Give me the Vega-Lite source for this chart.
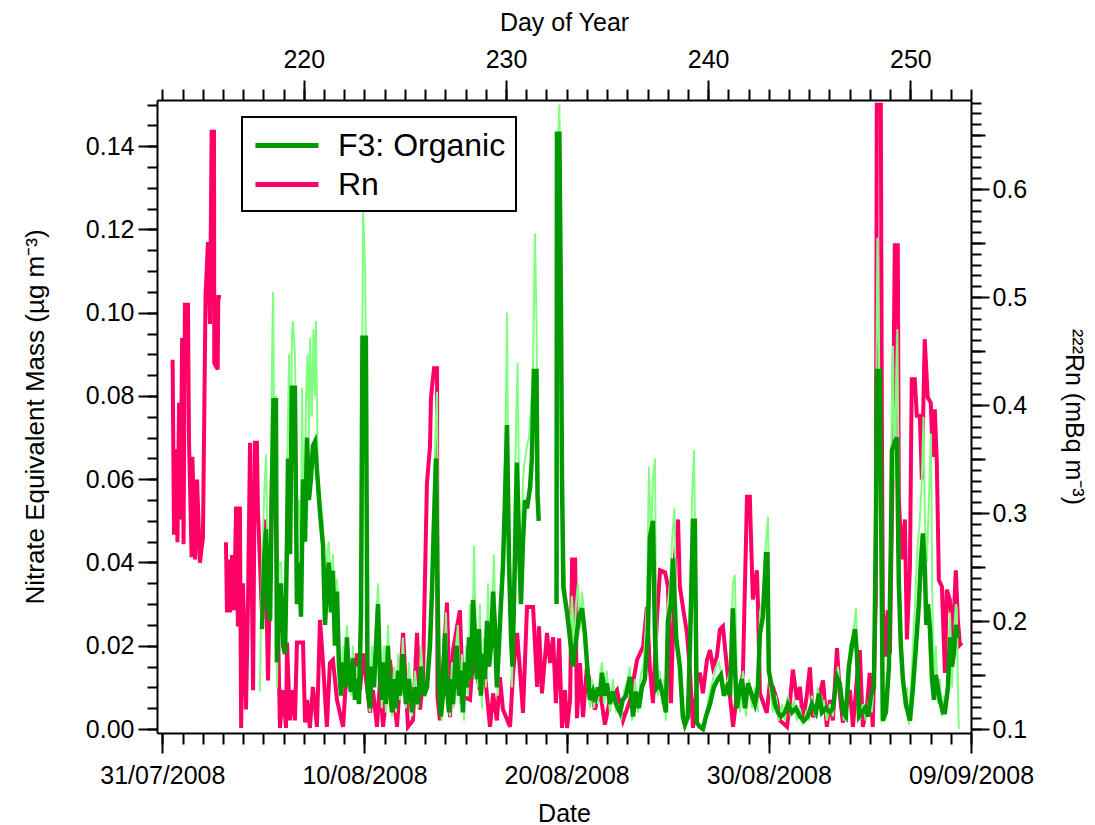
{
"$schema":"https://vega.github.io/schema/vega-lite/v6.json",
"width":814,"height":633,"autosize":"none",
"padding":{"left":157,"top":100,"right":124,"bottom":92},
"background":"white",
"config":{"font":"Liberation Sans","view":{"stroke":null},
"axis":{"grid":false,"domainColor":"black","domainWidth":2,"tickColor":"black","tickWidth":2,"labelColor":"black","titleColor":"black","labelFontSize":25,"titleFontSize":25,"titleFontWeight":"normal","labelFont":"Liberation Sans","titleFont":"Liberation Sans","labelOverlap":false,"labelBound":false,"labelFlush":false}},
"datasets":{
"rn":[
{"doy":213.51,"rn":0.442},{"doy":213.58,"rn":0.280},{"doy":213.68,"rn":0.359},{"doy":213.75,"rn":0.273},{"doy":213.83,"rn":0.402},{"doy":213.90,"rn":0.294},{"doy":213.98,"rn":0.462},{"doy":214.05,"rn":0.271},{"doy":214.12,"rn":0.493},{"doy":214.27,"rn":0.493},{"doy":214.32,"rn":0.368},{"doy":214.45,"rn":0.259},{"doy":214.49,"rn":0.352},{"doy":214.62,"rn":0.257},{"doy":214.72,"rn":0.331},{"doy":214.86,"rn":0.254},{"doy":215.01,"rn":0.277},{"doy":215.14,"rn":0.502},{"doy":215.26,"rn":0.551},{"doy":215.36,"rn":0.475},{"doy":215.44,"rn":0.653},{"doy":215.56,"rn":0.653},{"doy":215.57,"rn":0.439},{"doy":215.74,"rn":0.433},{"doy":215.77,"rn":0.500},{"doy":215.90,"rn":0.500},{"doy":216.00,"rn":null},
{"doy":216.15,"rn":0.273},{"doy":216.20,"rn":0.208},{"doy":216.30,"rn":0.257},{"doy":216.35,"rn":0.208},{"doy":216.45,"rn":0.261},{"doy":216.55,"rn":0.210},{"doy":216.65,"rn":0.306},{"doy":216.74,"rn":0.195},{"doy":216.84,"rn":0.306},{"doy":216.90,"rn":0.101},{"doy":216.99,"rn":0.235},{"doy":217.14,"rn":0.118},{"doy":217.24,"rn":0.220},{"doy":217.34,"rn":0.365},{"doy":217.44,"rn":0.220},{"doy":217.49,"rn":0.136},{"doy":217.58,"rn":0.365},{"doy":217.68,"rn":0.365},{"doy":217.73,"rn":0.303},{"doy":217.94,"rn":0.201},{"doy":218.08,"rn":0.294},{"doy":218.23,"rn":0.145},{"doy":218.43,"rn":0.343},{"doy":218.57,"rn":0.334},{"doy":218.67,"rn":0.245},{"doy":218.82,"rn":0.101},{"doy":218.97,"rn":0.136},{"doy":219.12,"rn":0.101},{"doy":219.17,"rn":0.180},{"doy":219.31,"rn":0.108},{"doy":219.46,"rn":0.136},{"doy":219.56,"rn":0.108},{"doy":219.66,"rn":0.180},{"doy":219.96,"rn":0.180},{"doy":220.06,"rn":0.106},{"doy":220.16,"rn":0.127},{"doy":220.30,"rn":0.101},{"doy":220.45,"rn":0.139},{"doy":220.65,"rn":0.102},{"doy":220.80,"rn":0.201},{"doy":220.95,"rn":0.161},{"doy":221.14,"rn":0.102},{"doy":221.29,"rn":0.161},{"doy":221.44,"rn":0.164},{"doy":221.64,"rn":0.127},{"doy":221.94,"rn":0.102},{"doy":222.14,"rn":0.161},{"doy":222.38,"rn":0.136},{"doy":222.63,"rn":0.170},{"doy":222.78,"rn":0.136},{"doy":222.93,"rn":0.170},{"doy":223.27,"rn":0.115},{"doy":223.42,"rn":0.136},{"doy":223.62,"rn":0.102},{"doy":223.77,"rn":0.145},{"doy":223.92,"rn":0.102},{"doy":224.26,"rn":0.164},{"doy":224.61,"rn":0.102},{"doy":224.91,"rn":0.189},{"doy":225.15,"rn":0.102},{"doy":225.40,"rn":0.108},{"doy":225.60,"rn":0.189},{"doy":225.75,"rn":0.118},{"doy":225.89,"rn":0.145},{"doy":226.09,"rn":0.328},{"doy":226.24,"rn":0.361},{"doy":226.29,"rn":0.407},{"doy":226.44,"rn":0.434},{"doy":226.59,"rn":0.434},{"doy":226.61,"rn":0.130},{"doy":226.73,"rn":0.108},{"doy":227.08,"rn":0.217},{"doy":227.23,"rn":0.111},{"doy":227.38,"rn":0.173},{"doy":227.72,"rn":0.210},{"doy":227.87,"rn":0.130},{"doy":228.22,"rn":0.127},{"doy":228.37,"rn":0.167},{"doy":228.71,"rn":0.136},{"doy":228.86,"rn":0.170},{"doy":229.21,"rn":0.102},{"doy":229.36,"rn":0.133},{"doy":229.55,"rn":0.108},{"doy":229.70,"rn":0.148},{"doy":229.85,"rn":0.118},{"doy":230.20,"rn":0.102},{"doy":230.35,"rn":0.152},{"doy":230.55,"rn":0.189},{"doy":230.70,"rn":0.152},{"doy":230.84,"rn":0.115},{"doy":231.04,"rn":0.213},{"doy":231.34,"rn":0.213},{"doy":231.54,"rn":0.139},{"doy":231.63,"rn":0.195},{"doy":231.78,"rn":0.133},{"doy":232.03,"rn":0.189},{"doy":232.18,"rn":0.161},{"doy":232.33,"rn":0.185},{"doy":232.47,"rn":0.124},{"doy":232.63,"rn":0.184},{"doy":232.77,"rn":0.101},{"doy":232.92,"rn":0.136},{"doy":233.02,"rn":0.101},{"doy":233.17,"rn":0.127},{"doy":233.27,"rn":0.257},{"doy":233.42,"rn":0.257},{"doy":233.51,"rn":0.110},{"doy":233.66,"rn":0.161},{"doy":233.81,"rn":0.111},{"doy":234.00,"rn":0.157},{"doy":234.15,"rn":0.143},{"doy":234.40,"rn":0.118},{"doy":234.65,"rn":0.136},{"doy":234.89,"rn":0.104},{"doy":235.14,"rn":0.127},{"doy":235.49,"rn":0.136},{"doy":235.79,"rn":0.108},{"doy":236.14,"rn":0.127},{"doy":236.48,"rn":0.164},{"doy":236.78,"rn":0.176},{"doy":236.97,"rn":0.213},{"doy":237.12,"rn":0.155},{"doy":237.27,"rn":0.124},{"doy":237.47,"rn":0.204},{"doy":237.62,"rn":0.247},{"doy":237.87,"rn":0.245},{"doy":238.01,"rn":0.232},{"doy":238.16,"rn":0.124},{"doy":238.36,"rn":0.259},{"doy":238.51,"rn":0.294},{"doy":238.60,"rn":0.232},{"doy":238.75,"rn":0.213},{"doy":238.95,"rn":0.189},{"doy":239.10,"rn":0.153},{"doy":239.25,"rn":0.101},{"doy":239.45,"rn":0.143},{"doy":239.59,"rn":0.152},{"doy":239.74,"rn":0.133},{"doy":239.94,"rn":0.164},{"doy":240.09,"rn":0.173},{"doy":240.24,"rn":0.157},{"doy":240.43,"rn":0.167},{"doy":240.58,"rn":0.192},{"doy":240.73,"rn":0.195},{"doy":240.93,"rn":0.157},{"doy":241.08,"rn":0.130},{"doy":241.23,"rn":0.102},{"doy":241.43,"rn":0.133},{"doy":241.57,"rn":0.130},{"doy":241.72,"rn":0.152},{"doy":241.92,"rn":0.315},{"doy":242.06,"rn":0.315},{"doy":242.21,"rn":0.220},{"doy":242.41,"rn":0.247},{"doy":242.46,"rn":0.217},{"doy":242.56,"rn":0.133},{"doy":242.90,"rn":0.115},{"doy":243.05,"rn":0.143},{"doy":243.20,"rn":0.139},{"doy":243.40,"rn":0.127},{"doy":243.55,"rn":0.108},{"doy":243.90,"rn":0.102},{"doy":244.04,"rn":0.124},{"doy":244.19,"rn":0.155},{"doy":244.39,"rn":0.127},{"doy":244.54,"rn":0.139},{"doy":244.69,"rn":0.106},{"doy":244.89,"rn":0.133},{"doy":245.03,"rn":0.157},{"doy":245.18,"rn":0.111},{"doy":245.38,"rn":0.120},{"doy":245.53,"rn":0.133},{"doy":245.68,"rn":0.145},{"doy":245.87,"rn":0.102},{"doy":246.02,"rn":0.127},{"doy":246.17,"rn":0.108},{"doy":246.37,"rn":0.175},{"doy":246.51,"rn":0.133},{"doy":246.66,"rn":0.106},{"doy":246.86,"rn":0.127},{"doy":247.01,"rn":0.136},{"doy":247.16,"rn":0.102},{"doy":247.35,"rn":0.145},{"doy":247.50,"rn":0.173},{"doy":247.65,"rn":0.102},{"doy":247.85,"rn":0.120},{"doy":247.99,"rn":0.152},{"doy":248.14,"rn":0.102},{"doy":248.29,"rn":0.220},{"doy":248.34,"rn":0.678},{"doy":248.54,"rn":0.678},{"doy":248.59,"rn":0.389},{"doy":248.64,"rn":0.210},{"doy":248.79,"rn":0.167},{"doy":248.88,"rn":0.210},{"doy":248.99,"rn":0.170},{"doy":249.14,"rn":0.365},{"doy":249.23,"rn":0.548},{"doy":249.38,"rn":0.548},{"doy":249.43,"rn":0.312},{"doy":249.58,"rn":0.257},{"doy":249.73,"rn":0.294},{"doy":249.83,"rn":0.183},{"doy":249.98,"rn":0.250},{"doy":250.07,"rn":0.424},{"doy":250.22,"rn":0.424},{"doy":250.32,"rn":0.390},{"doy":250.47,"rn":0.390},{"doy":250.57,"rn":0.331},{"doy":250.71,"rn":0.461},{"doy":250.86,"rn":0.407},{"doy":251.01,"rn":0.402},{"doy":251.11,"rn":0.352},{"doy":251.21,"rn":0.396},{"doy":251.31,"rn":0.347},{"doy":251.41,"rn":0.238},{"doy":251.56,"rn":0.232},{"doy":251.71,"rn":0.152},{"doy":251.80,"rn":0.229},{"doy":251.95,"rn":0.220},{"doy":252.10,"rn":0.183},{"doy":252.25,"rn":0.247},{"doy":252.35,"rn":0.201},{"doy":252.45,"rn":0.178},{"doy":252.55,"rn":0.180}
],
"avg":[
{"doy":217.93,"org":0.024},{"doy":218.03,"org":0.040},{"doy":218.13,"org":0.048},{"doy":218.23,"org":0.030},{"doy":218.33,"org":0.026},{"doy":218.43,"org":0.060},{"doy":218.50,"org":0.079},{"doy":218.62,"org":0.079},{"doy":218.67,"org":0.016},{"doy":218.77,"org":0.030},{"doy":218.87,"org":0.035},{"doy":218.97,"org":0.020},{"doy":219.07,"org":0.018},{"doy":219.17,"org":0.045},{"doy":219.22,"org":0.065},{"doy":219.32,"org":0.042},{"doy":219.41,"org":0.082},{"doy":219.56,"org":0.082},{"doy":219.66,"org":0.030},{"doy":219.76,"org":0.040},{"doy":219.86,"org":0.027},{"doy":219.96,"org":0.060},{"doy":220.06,"org":0.045},{"doy":220.16,"org":0.070},{"doy":220.25,"org":0.055},{"doy":220.35,"org":0.060},{"doy":220.45,"org":0.068},{"doy":220.55,"org":0.069},{"doy":220.80,"org":0.052},{"doy":220.95,"org":0.044},{"doy":221.05,"org":0.025},{"doy":221.15,"org":0.036},{"doy":221.24,"org":0.040},{"doy":221.34,"org":0.028},{"doy":221.44,"org":0.038},{"doy":221.54,"org":0.020},{"doy":221.64,"org":0.033},{"doy":221.74,"org":0.015},{"doy":221.84,"org":0.008},{"doy":221.94,"org":0.016},{"doy":222.04,"org":0.010},{"doy":222.13,"org":0.022},{"doy":222.23,"org":0.012},{"doy":222.33,"org":0.009},{"doy":222.43,"org":0.017},{"doy":222.53,"org":0.007},{"doy":222.63,"org":0.012},{"doy":222.73,"org":0.006},{"doy":222.83,"org":0.028},{"doy":222.90,"org":0.094},{"doy":223.07,"org":0.094},{"doy":223.15,"org":0.010},{"doy":223.27,"org":0.005},{"doy":223.37,"org":0.015},{"doy":223.47,"org":0.010},{"doy":223.57,"org":0.020},{"doy":223.67,"org":0.030},{"doy":223.77,"org":0.012},{"doy":223.86,"org":0.007},{"doy":223.96,"org":0.016},{"doy":224.06,"org":0.006},{"doy":224.16,"org":0.020},{"doy":224.26,"org":0.010},{"doy":224.36,"org":0.004},{"doy":224.46,"org":0.012},{"doy":224.56,"org":0.005},{"doy":224.66,"org":0.014},{"doy":224.76,"org":0.008},{"doy":224.90,"org":0.018},{"doy":225.05,"org":0.006},{"doy":225.20,"org":0.012},{"doy":225.35,"org":0.004},{"doy":225.50,"org":0.010},{"doy":225.65,"org":0.006},{"doy":225.80,"org":0.015},{"doy":225.94,"org":0.008},{"doy":226.09,"org":0.010},{"doy":226.24,"org":0.020},{"doy":226.34,"org":0.033},{"doy":226.44,"org":0.050},{"doy":226.54,"org":0.065},{"doy":226.61,"org":0.035},{"doy":226.68,"org":0.010},{"doy":226.78,"org":0.003},{"doy":226.88,"org":0.008},{"doy":226.98,"org":0.023},{"doy":227.08,"org":0.010},{"doy":227.18,"org":0.004},{"doy":227.28,"org":0.012},{"doy":227.38,"org":0.006},{"doy":227.48,"org":0.015},{"doy":227.57,"org":0.020},{"doy":227.67,"org":0.008},{"doy":227.77,"org":0.014},{"doy":227.87,"org":0.004},{"doy":227.97,"org":0.016},{"doy":228.07,"org":0.010},{"doy":228.17,"org":0.022},{"doy":228.27,"org":0.012},{"doy":228.37,"org":0.031},{"doy":228.47,"org":0.022},{"doy":228.56,"org":0.012},{"doy":228.66,"org":0.024},{"doy":228.76,"org":0.008},{"doy":228.86,"org":0.018},{"doy":228.96,"org":0.012},{"doy":229.06,"org":0.026},{"doy":229.16,"org":0.015},{"doy":229.26,"org":0.020},{"doy":229.36,"org":0.033},{"doy":229.45,"org":0.025},{"doy":229.55,"org":0.010},{"doy":229.65,"org":0.020},{"doy":229.75,"org":0.030},{"doy":229.85,"org":0.039},{"doy":229.95,"org":0.055},{"doy":230.05,"org":0.073},{"doy":230.15,"org":0.040},{"doy":230.25,"org":0.022},{"doy":230.32,"org":0.015},{"doy":230.44,"org":0.040},{"doy":230.54,"org":0.064},{"doy":230.64,"org":0.045},{"doy":230.74,"org":0.030},{"doy":230.84,"org":0.045},{"doy":230.94,"org":0.055},{"doy":231.04,"org":0.053},{"doy":231.19,"org":0.058},{"doy":231.28,"org":0.065},{"doy":231.38,"org":0.086},{"doy":231.51,"org":0.086},{"doy":231.56,"org":0.056},{"doy":231.62,"org":0.050},{"doy":232.00,"org":null},{"doy":232.50,"org":0.030},{"doy":232.52,"org":0.143},{"doy":232.64,"org":0.143},{"doy":232.72,"org":0.100},{"doy":232.77,"org":0.060},{"doy":232.84,"org":0.034},{"doy":233.02,"org":0.028},{"doy":233.16,"org":0.022},{"doy":233.31,"org":0.015},{"doy":233.51,"org":0.023},{"doy":233.61,"org":0.027},{"doy":233.76,"org":0.029},{"doy":233.90,"org":0.023},{"doy":234.05,"org":0.013},{"doy":234.15,"org":0.007},{"doy":234.30,"org":0.009},{"doy":234.40,"org":0.0065},{"doy":234.55,"org":0.010},{"doy":234.65,"org":0.008},{"doy":234.75,"org":0.0135},{"doy":234.89,"org":0.008},{"doy":234.99,"org":0.011},{"doy":235.14,"org":0.006},{"doy":235.29,"org":0.009},{"doy":235.44,"org":0.006},{"doy":235.64,"org":0.004},{"doy":235.78,"org":0.007},{"doy":235.93,"org":0.008},{"doy":236.13,"org":0.0125},{"doy":236.28,"org":0.003},{"doy":236.43,"org":0.009},{"doy":236.57,"org":0.005},{"doy":236.72,"org":0.010},{"doy":236.87,"org":0.012},{"doy":237.02,"org":0.023},{"doy":237.12,"org":0.046},{"doy":237.27,"org":0.050},{"doy":237.37,"org":0.022},{"doy":237.47,"org":0.010},{"doy":237.61,"org":0.011},{"doy":237.76,"org":0.008},{"doy":237.91,"org":0.004},{"doy":238.01,"org":0.026},{"doy":238.16,"org":0.030},{"doy":238.26,"org":0.041},{"doy":238.41,"org":0.022},{"doy":238.60,"org":0.015},{"doy":238.75,"org":0.003},{"doy":238.85,"org":0.001},{"doy":239.00,"org":0.003},{"doy":239.10,"org":0.020},{"doy":239.25,"org":0.050},{"doy":239.34,"org":0.050},{"doy":239.44,"org":0.0015},{"doy":239.59,"org":0.0005},{"doy":239.74,"org":0.000},{"doy":239.89,"org":0.003},{"doy":240.09,"org":0.006},{"doy":240.28,"org":0.010},{"doy":240.48,"org":0.012},{"doy":240.63,"org":0.013},{"doy":240.78,"org":0.008},{"doy":240.93,"org":0.010},{"doy":241.08,"org":0.008},{"doy":241.22,"org":0.029},{"doy":241.32,"org":0.015},{"doy":241.42,"org":0.005},{"doy":241.57,"org":0.010},{"doy":241.67,"org":0.012},{"doy":241.82,"org":0.005},{"doy":241.97,"org":0.011},{"doy":242.17,"org":0.008},{"doy":242.31,"org":0.006},{"doy":242.46,"org":0.010},{"doy":242.56,"org":0.023},{"doy":242.71,"org":0.027},{"doy":242.86,"org":0.042},{"doy":242.93,"org":0.042},{"doy":243.00,"org":0.014},{"doy":243.15,"org":0.010},{"doy":243.30,"org":0.006},{"doy":243.45,"org":0.004},{"doy":243.60,"org":0.003},{"doy":243.80,"org":0.004},{"doy":243.94,"org":0.006},{"doy":244.14,"org":0.004},{"doy":244.34,"org":0.005},{"doy":244.54,"org":0.003},{"doy":244.73,"org":0.002},{"doy":244.93,"org":0.003},{"doy":245.13,"org":0.006},{"doy":245.33,"org":0.004},{"doy":245.48,"org":0.0085},{"doy":245.63,"org":0.004},{"doy":245.82,"org":0.005},{"doy":246.02,"org":0.004},{"doy":246.17,"org":0.005},{"doy":246.37,"org":0.0125},{"doy":246.51,"org":0.011},{"doy":246.67,"org":0.004},{"doy":246.81,"org":0.003},{"doy":246.96,"org":0.015},{"doy":247.11,"org":0.020},{"doy":247.26,"org":0.024},{"doy":247.36,"org":0.018},{"doy":247.46,"org":0.003},{"doy":247.61,"org":0.004},{"doy":247.75,"org":0.005},{"doy":247.90,"org":0.003},{"doy":248.05,"org":0.008},{"doy":248.20,"org":0.010},{"doy":248.30,"org":0.050},{"doy":248.35,"org":0.086},{"doy":248.49,"org":0.086},{"doy":248.54,"org":0.060},{"doy":248.64,"org":0.002},{"doy":248.79,"org":0.004},{"doy":248.94,"org":0.015},{"doy":249.04,"org":0.045},{"doy":249.09,"org":0.067},{"doy":249.24,"org":0.069},{"doy":249.34,"org":0.070},{"doy":249.43,"org":0.035},{"doy":249.53,"org":0.020},{"doy":249.63,"org":0.012},{"doy":249.78,"org":0.006},{"doy":249.98,"org":0.002},{"doy":250.13,"org":0.010},{"doy":250.28,"org":0.020},{"doy":250.42,"org":0.030},{"doy":250.52,"org":0.040},{"doy":250.62,"org":0.047},{"doy":250.72,"org":0.038},{"doy":250.79,"org":0.025},{"doy":250.87,"org":0.030},{"doy":250.97,"org":0.024},{"doy":251.07,"org":0.012},{"doy":251.17,"org":0.007},{"doy":251.26,"org":0.013},{"doy":251.36,"org":0.010},{"doy":251.46,"org":0.007},{"doy":251.61,"org":0.004},{"doy":251.71,"org":0.004},{"doy":251.86,"org":0.010},{"doy":251.96,"org":0.022},{"doy":252.06,"org":0.015},{"doy":252.15,"org":0.018},{"doy":252.25,"org":0.025},{"doy":252.35,"org":0.022},{"doy":252.40,"org":0.023}
],
"raw":[
{"doy":217.83,"org":0.009},{"doy":217.93,"org":0.040},{"doy":218.03,"org":0.055},{"doy":218.13,"org":0.066},{"doy":218.23,"org":0.035},{"doy":218.33,"org":0.040},{"doy":218.43,"org":0.090},{"doy":218.48,"org":0.105},{"doy":218.55,"org":0.060},{"doy":218.62,"org":0.080},{"doy":218.67,"org":0.010},{"doy":218.77,"org":0.040},{"doy":218.87,"org":0.040},{"doy":218.97,"org":0.025},{"doy":219.07,"org":0.030},{"doy":219.17,"org":0.060},{"doy":219.27,"org":0.090},{"doy":219.34,"org":0.050},{"doy":219.41,"org":0.095},{"doy":219.46,"org":0.098},{"doy":219.56,"org":0.090},{"doy":219.66,"org":0.050},{"doy":219.76,"org":0.055},{"doy":219.86,"org":0.040},{"doy":219.91,"org":0.082},{"doy":220.01,"org":0.045},{"doy":220.11,"org":0.080},{"doy":220.18,"org":0.090},{"doy":220.25,"org":0.070},{"doy":220.31,"org":0.094},{"doy":220.40,"org":0.075},{"doy":220.48,"org":0.096},{"doy":220.55,"org":0.080},{"doy":220.60,"org":0.098},{"doy":220.70,"org":0.060},{"doy":220.95,"org":0.050},{"doy":221.05,"org":0.030},{"doy":221.15,"org":0.042},{"doy":221.24,"org":0.045},{"doy":221.34,"org":0.030},{"doy":221.44,"org":0.042},{"doy":221.54,"org":0.022},{"doy":221.64,"org":0.036},{"doy":221.74,"org":0.018},{"doy":221.84,"org":0.010},{"doy":221.94,"org":0.020},{"doy":222.04,"org":0.012},{"doy":222.13,"org":0.025},{"doy":222.23,"org":0.015},{"doy":222.33,"org":0.008},{"doy":222.43,"org":0.020},{"doy":222.53,"org":0.008},{"doy":222.63,"org":0.015},{"doy":222.73,"org":0.008},{"doy":222.83,"org":0.035},{"doy":222.93,"org":0.125},{"doy":223.03,"org":0.110},{"doy":223.10,"org":0.080},{"doy":223.17,"org":0.008},{"doy":223.27,"org":0.004},{"doy":223.37,"org":0.020},{"doy":223.47,"org":0.012},{"doy":223.57,"org":0.025},{"doy":223.67,"org":0.035},{"doy":223.77,"org":0.015},{"doy":223.86,"org":0.005},{"doy":223.96,"org":0.020},{"doy":224.06,"org":0.004},{"doy":224.16,"org":0.025},{"doy":224.26,"org":0.012},{"doy":224.36,"org":0.003},{"doy":224.46,"org":0.015},{"doy":224.56,"org":0.004},{"doy":224.66,"org":0.018},{"doy":224.76,"org":0.007},{"doy":224.90,"org":0.022},{"doy":225.05,"org":0.005},{"doy":225.20,"org":0.016},{"doy":225.35,"org":0.003},{"doy":225.50,"org":0.014},{"doy":225.65,"org":0.005},{"doy":225.80,"org":0.020},{"doy":225.94,"org":0.008},{"doy":226.09,"org":0.014},{"doy":226.24,"org":0.026},{"doy":226.34,"org":0.040},{"doy":226.44,"org":0.060},{"doy":226.54,"org":0.075},{"doy":226.59,"org":0.081},{"doy":226.64,"org":0.040},{"doy":226.73,"org":0.008},{"doy":226.83,"org":0.002},{"doy":226.93,"org":0.012},{"doy":227.03,"org":0.028},{"doy":227.13,"org":0.008},{"doy":227.23,"org":0.003},{"doy":227.33,"org":0.016},{"doy":227.43,"org":0.005},{"doy":227.53,"org":0.020},{"doy":227.62,"org":0.025},{"doy":227.72,"org":0.006},{"doy":227.82,"org":0.018},{"doy":227.92,"org":0.002},{"doy":228.02,"org":0.020},{"doy":228.12,"org":0.008},{"doy":228.22,"org":0.030},{"doy":228.32,"org":0.015},{"doy":228.42,"org":0.044},{"doy":228.51,"org":0.020},{"doy":228.61,"org":0.010},{"doy":228.71,"org":0.030},{"doy":228.81,"org":0.005},{"doy":228.91,"org":0.022},{"doy":229.01,"org":0.010},{"doy":229.11,"org":0.035},{"doy":229.20,"org":0.015},{"doy":229.30,"org":0.025},{"doy":229.40,"org":0.042},{"doy":229.50,"org":0.020},{"doy":229.60,"org":0.008},{"doy":229.70,"org":0.028},{"doy":229.80,"org":0.040},{"doy":229.90,"org":0.050},{"doy":230.00,"org":0.080},{"doy":230.05,"org":0.100},{"doy":230.12,"org":0.050},{"doy":230.20,"org":0.030},{"doy":230.30,"org":0.010},{"doy":230.40,"org":0.050},{"doy":230.49,"org":0.070},{"doy":230.57,"org":0.088},{"doy":230.64,"org":0.060},{"doy":230.74,"org":0.035},{"doy":230.84,"org":0.060},{"doy":230.94,"org":0.065},{"doy":231.04,"org":0.068},{"doy":231.14,"org":0.070},{"doy":231.24,"org":0.078},{"doy":231.33,"org":0.085},{"doy":231.43,"org":0.119},{"doy":231.51,"org":0.098},{"doy":231.58,"org":0.060},{"doy":232.00,"org":null},{"doy":232.50,"org":0.050},{"doy":232.57,"org":0.140},{"doy":232.64,"org":0.150},{"doy":232.72,"org":0.120},{"doy":232.77,"org":0.060},{"doy":232.87,"org":0.040},{"doy":232.97,"org":0.030},{"doy":233.06,"org":0.028},{"doy":233.16,"org":0.020},{"doy":233.26,"org":0.032},{"doy":233.36,"org":0.018},{"doy":233.46,"org":0.030},{"doy":233.56,"org":0.035},{"doy":233.66,"org":0.024},{"doy":233.76,"org":0.033},{"doy":233.86,"org":0.028},{"doy":233.95,"org":0.018},{"doy":234.05,"org":0.010},{"doy":234.15,"org":0.005},{"doy":234.25,"org":0.012},{"doy":234.35,"org":0.005},{"doy":234.45,"org":0.010},{"doy":234.55,"org":0.006},{"doy":234.65,"org":0.013},{"doy":234.75,"org":0.016},{"doy":234.85,"org":0.006},{"doy":234.99,"org":0.014},{"doy":235.14,"org":0.004},{"doy":235.29,"org":0.012},{"doy":235.44,"org":0.004},{"doy":235.59,"org":0.006},{"doy":235.69,"org":0.002},{"doy":235.83,"org":0.009},{"doy":235.98,"org":0.011},{"doy":236.13,"org":0.015},{"doy":236.23,"org":0.002},{"doy":236.38,"org":0.012},{"doy":236.53,"org":0.004},{"doy":236.67,"org":0.013},{"doy":236.82,"org":0.016},{"doy":236.97,"org":0.030},{"doy":237.07,"org":0.063},{"doy":237.17,"org":0.045},{"doy":237.27,"org":0.060},{"doy":237.37,"org":0.065},{"doy":237.42,"org":0.030},{"doy":237.51,"org":0.008},{"doy":237.61,"org":0.014},{"doy":237.71,"org":0.006},{"doy":237.81,"org":0.012},{"doy":237.91,"org":0.002},{"doy":238.01,"org":0.030},{"doy":238.11,"org":0.035},{"doy":238.21,"org":0.045},{"doy":238.33,"org":0.053},{"doy":238.41,"org":0.030},{"doy":238.51,"org":0.020},{"doy":238.60,"org":0.012},{"doy":238.70,"org":0.002},{"doy":238.80,"org":0.001},{"doy":238.90,"org":0.004},{"doy":239.00,"org":0.008},{"doy":239.10,"org":0.030},{"doy":239.20,"org":0.055},{"doy":239.30,"org":0.067},{"doy":239.39,"org":0.030},{"doy":239.49,"org":0.001},{"doy":239.64,"org":0.000},{"doy":239.79,"org":0.002},{"doy":239.94,"org":0.005},{"doy":240.09,"org":0.009},{"doy":240.24,"org":0.012},{"doy":240.39,"org":0.015},{"doy":240.53,"org":0.016},{"doy":240.68,"org":0.012},{"doy":240.83,"org":0.010},{"doy":240.98,"org":0.012},{"doy":241.13,"org":0.015},{"doy":241.22,"org":0.035},{"doy":241.32,"org":0.037},{"doy":241.42,"org":0.012},{"doy":241.57,"org":0.004},{"doy":241.72,"org":0.014},{"doy":241.87,"org":0.003},{"doy":242.02,"org":0.012},{"doy":242.17,"org":0.005},{"doy":242.31,"org":0.010},{"doy":242.46,"org":0.004},{"doy":242.56,"org":0.028},{"doy":242.71,"org":0.032},{"doy":242.86,"org":0.045},{"doy":242.96,"org":0.051},{"doy":243.05,"org":0.010},{"doy":243.20,"org":0.004},{"doy":243.35,"org":0.008},{"doy":243.50,"org":0.002},{"doy":243.65,"org":0.006},{"doy":243.80,"org":0.002},{"doy":243.94,"org":0.008},{"doy":244.09,"org":0.003},{"doy":244.24,"org":0.007},{"doy":244.39,"org":0.002},{"doy":244.54,"org":0.005},{"doy":244.69,"org":0.001},{"doy":244.84,"org":0.004},{"doy":244.98,"org":0.002},{"doy":245.13,"org":0.008},{"doy":245.28,"org":0.003},{"doy":245.43,"org":0.010},{"doy":245.58,"org":0.003},{"doy":245.72,"org":0.007},{"doy":245.87,"org":0.002},{"doy":246.02,"org":0.006},{"doy":246.17,"org":0.003},{"doy":246.32,"org":0.012},{"doy":246.42,"org":0.015},{"doy":246.56,"org":0.008},{"doy":246.71,"org":0.002},{"doy":246.86,"org":0.008},{"doy":247.01,"org":0.020},{"doy":247.16,"org":0.022},{"doy":247.31,"org":0.029},{"doy":247.41,"org":0.010},{"doy":247.51,"org":0.002},{"doy":247.65,"org":0.006},{"doy":247.80,"org":0.002},{"doy":247.95,"org":0.007},{"doy":248.10,"org":0.004},{"doy":248.20,"org":0.012},{"doy":248.30,"org":0.070},{"doy":248.37,"org":0.118},{"doy":248.45,"org":0.090},{"doy":248.52,"org":0.060},{"doy":248.59,"org":0.002},{"doy":248.74,"org":0.003},{"doy":248.89,"org":0.010},{"doy":248.99,"org":0.030},{"doy":249.09,"org":0.080},{"doy":249.14,"org":0.092},{"doy":249.21,"org":0.060},{"doy":249.29,"org":0.080},{"doy":249.36,"org":0.096},{"doy":249.43,"org":0.050},{"doy":249.53,"org":0.025},{"doy":249.63,"org":0.015},{"doy":249.73,"org":0.005},{"doy":249.83,"org":0.010},{"doy":249.93,"org":0.001},{"doy":250.08,"org":0.015},{"doy":250.23,"org":0.030},{"doy":250.37,"org":0.045},{"doy":250.47,"org":0.050},{"doy":250.57,"org":0.060},{"doy":250.65,"org":0.075},{"doy":250.72,"org":0.050},{"doy":250.82,"org":0.040},{"doy":250.92,"org":0.055},{"doy":251.02,"org":0.071},{"doy":251.09,"org":0.030},{"doy":251.17,"org":0.010},{"doy":251.26,"org":0.020},{"doy":251.36,"org":0.006},{"doy":251.46,"org":0.012},{"doy":251.56,"org":0.003},{"doy":251.66,"org":0.008},{"doy":251.76,"org":0.004},{"doy":251.86,"org":0.015},{"doy":251.96,"org":0.028},{"doy":252.06,"org":0.010},{"doy":252.15,"org":0.022},{"doy":252.25,"org":0.030},{"doy":252.30,"org":0.029},{"doy":252.35,"org":0.010},{"doy":252.40,"org":0.000}
]
},
"layer":[
{"data":{"name":"rn"},
 "mark":{"type":"line","strokeWidth":4,"clip":true,"invalid":"break-paths-show-domains"},
 "encoding":{
  "x":{"field":"doy","type":"quantitative","scale":{"domain":[212.738,253],"nice":false,"zero":false},
   "axis":{"orient":"bottom","values":[213,223,233,243,253],"labelExpr":"timeFormat(datetime(2008,0,datum.value),'%d/%m/%Y')","tickSize":20,"labelPadding":10,"title":"Date","titlePadding":13}},
  "y":{"field":"rn","type":"quantitative","scale":{"domain":[0.0963,0.6825],"nice":false,"zero":false},
   "axis":{"orient":"right","values":[0.1,0.2,0.3,0.4,0.5,0.6],"format":".1f","tickSize":18,"labelPadding":3,"title":"²²²Rn (mBq m⁻³)","titlePadding":34}},
  "color":{"datum":"Rn","type":"nominal","scale":{"domain":["F3: Organic","Rn"],"range":["#009900","#FF0066"]},
   "legend":{"orient":"none","legendX":85,"legendY":17,"title":null,"labelFontSize":32,"labelFont":"Liberation Sans","labelColor":"black","labelLimit":400,"symbolType":"M-0.94,0H3","symbolSize":1024,"symbolStrokeWidth":5,"labelOffset":49,"rowPadding":4,"padding":10,"strokeColor":"black","fillColor":"white",
    "encode":{"legend":{"update":{"strokeWidth":{"value":2}}}}}}
 }},
{"data":{"name":"raw"},
 "mark":{"type":"line","strokeWidth":2,"color":"#80FF80","clip":true,"invalid":"break-paths-show-domains"},
 "encoding":{
  "x":{"field":"doy","type":"quantitative","scale":{"domain":[212.738,253],"nice":false,"zero":false},
   "axis":{"orient":"top","values":[220,230,240,250],"format":"d","tickSize":20,"labelPadding":8,"title":"Day of Year","titlePadding":12}},
  "y":{"field":"org","type":"quantitative","scale":{"domain":[-0.00096,0.1511],"nice":false,"zero":false},
   "axis":{"orient":"left","values":[0,0.02,0.04,0.06,0.08,0.1,0.12,0.14],"format":".2f","tickSize":19,"labelPadding":4,"title":"Nitrate Equivalent Mass (µg m⁻³)","titleFontSize":26,"titlePadding":37}}
 }},
{"data":{"name":"avg"},
 "mark":{"type":"line","strokeWidth":4.5,"clip":true,"invalid":"break-paths-show-domains"},
 "encoding":{
  "x":{"field":"doy","type":"quantitative","scale":{"domain":[212.738,253],"nice":false,"zero":false},
   "axis":{"orient":"bottom","values":[213,214,215,216,217,218,219,220,221,222,223,224,225,226,227,228,229,230,231,232,233,234,235,236,237,238,239,240,241,242,243,244,245,246,247,248,249,250,251,252,253],"labels":false,"domain":false,"tickSize":11,"title":null}},
  "y":{"field":"org","type":"quantitative","scale":{"domain":[-0.00096,0.1511],"nice":false,"zero":false},
   "axis":{"orient":"left","values":[0,0.005,0.01,0.015,0.02,0.025,0.03,0.035,0.04,0.045,0.05,0.055,0.06,0.065,0.07,0.075,0.08,0.085,0.09,0.095,0.1,0.105,0.11,0.115,0.12,0.125,0.13,0.135,0.14,0.145,0.15],"labels":false,"domain":false,"tickSize":10,"title":null}},
  "color":{"datum":"F3: Organic","type":"nominal","scale":{"domain":["F3: Organic","Rn"],"range":["#009900","#FF0066"]}}
 }},
{"data":{"name":"rn"},
 "mark":{"type":"point","opacity":0},
 "encoding":{
  "x":{"field":"doy","type":"quantitative","scale":{"domain":[212.738,253],"nice":false,"zero":false},
   "axis":{"orient":"top","values":[213,214,215,216,217,218,219,220,221,222,223,224,225,226,227,228,229,230,231,232,233,234,235,236,237,238,239,240,241,242,243,244,245,246,247,248,249,250,251,252,253],"labels":false,"domain":false,"tickSize":11,"title":null}},
  "y":{"field":"rn","type":"quantitative","scale":{"domain":[0.0963,0.6825],"nice":false,"zero":false},
   "axis":{"orient":"right","values":[0.15,0.25,0.35,0.45,0.55,0.65],"labels":false,"domain":false,"tickSize":14,"title":null}}
 }},
{"data":{"name":"rn"},
 "mark":{"type":"point","opacity":0},
 "encoding":{
  "x":{"field":"doy","type":"quantitative","scale":{"domain":[212.738,253],"nice":false,"zero":false},"axis":null},
  "y":{"field":"rn","type":"quantitative","scale":{"domain":[0.0963,0.6825],"nice":false,"zero":false},
   "axis":{"orient":"right","values":[0.1,0.11,0.12,0.13,0.14,0.15,0.16,0.17,0.18,0.19,0.2,0.21,0.22,0.23,0.24,0.25,0.26,0.27,0.28,0.29,0.3,0.31,0.32,0.33,0.34,0.35,0.36,0.37,0.38,0.39,0.4,0.41,0.42,0.43,0.44,0.45,0.46,0.47,0.48,0.49,0.5,0.51,0.52,0.53,0.54,0.55,0.56,0.57,0.58,0.59,0.6,0.61,0.62,0.63,0.64,0.65,0.66,0.67,0.68],"labels":false,"domain":false,"tickSize":10,"title":null}}
 }}
],
"resolve":{"scale":{"y":"independent"},"axis":{"x":"independent","y":"independent"}}
}
